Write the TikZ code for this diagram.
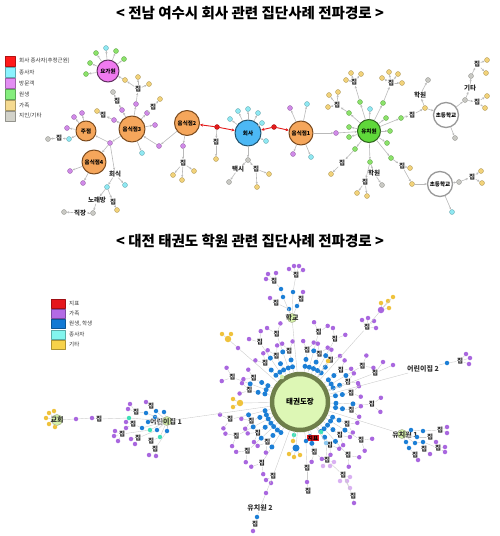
\documentclass[tikz,border=0pt]{standalone}
\usepackage{fontspec}
\setmainfont{Noto Sans CJK KR}
\usetikzlibrary{arrows.meta,calc}

% 위 그림 색
\definecolor{cyn}{HTML}{8FE8F2}
\definecolor{vio}{HTML}{D08AE8}
\definecolor{grn}{HTML}{8BE26A}
\definecolor{yel}{HTML}{F2D27A}
\definecolor{gry}{HTML}{C9C9C4}
\definecolor{rdd}{HTML}{E31B1B}
\definecolor{orn}{HTML}{F5A65B}
\definecolor{brn}{HTML}{7A4A1E}
\definecolor{mag}{HTML}{F07AF0}
\definecolor{sky}{HTML}{4CB8F5}
\definecolor{grd}{HTML}{5FD83A}
% 아래 그림 색
\definecolor{pvio}{HTML}{A967DF}
\definecolor{pblu}{HTML}{1C7FD6}
\definecolor{pcyn}{HTML}{3FE0B8}
\definecolor{pyel}{HTML}{EFC23C}
\definecolor{plvio}{HTML}{D9B0F2}
\definecolor{plblu}{HTML}{8CC8F0}
\definecolor{hubf}{HTML}{DDF7B5}
\definecolor{hubd}{HTML}{6E7F4A}
\definecolor{lgrn}{HTML}{D5F0A8}
% 범례 색
\definecolor{lr}{HTML}{FF1A1A}
\definecolor{lc}{HTML}{8AF3FF}
\definecolor{lv}{HTML}{E38DF3}
\definecolor{lg}{HTML}{85EE7E}
\definecolor{ly}{HTML}{F5DA90}
\definecolor{lw}{HTML}{D2D2CA}
\definecolor{mr}{HTML}{E5161D}
\definecolor{mv}{HTML}{B36AE5}
\definecolor{mb}{HTML}{1279D4}
\definecolor{mc}{HTML}{82F5EE}
\definecolor{my}{HTML}{F7D24A}

\begin{document}
\begin{tikzpicture}[x=1pt, y=-1pt, line join=round, line cap=round,
    big/.style={circle, inner sep=0pt, line width=1pt, font=\fontsize{5.5}{5.5}\selectfont\bfseries},
    shop/.style={big, draw=brn, fill=orn},
    firm/.style={big, draw=sky!45!black, fill=sky},
    yogast/.style={big, draw=mag!40!black, fill=mag},
    kinder/.style={big, draw=grd!45!black, fill=grd},
    school/.style={big, draw=gray!80, fill=white, line width=1.3pt},
    nd/.style={circle, inner sep=0pt, minimum size=5pt, draw=#1!70!black, line width=0.3pt, fill=#1},
    sm/.style={circle, inner sep=0pt, minimum size=4.5pt, fill=#1},
    lb/.style={inner sep=0.6pt, font=\fontsize{6.5}{6.5}\selectfont\bfseries, text=black!85},
    tag/.style={inner sep=0.5pt, font=\fontsize{7}{7}\selectfont\bfseries, text=black!80},
    kid/.style={circle, inner sep=0pt, minimum size=9pt, draw=hubd!70, line width=0.5pt, fill=lgrn},
    ar/.style={draw=gray!55, line width=0.6pt, -{Stealth[length=2.5pt,width=2.2pt]}},
    rar/.style={draw=rdd, line width=0.9pt, -{Stealth[length=3.2pt,width=3pt]}},
    ln/.style={draw=gray!40, line width=0.4pt},
    lgbox/.style={draw=#1!70!black, fill=#1, line width=0.3pt, inner sep=0pt},
    lgtxt/.style={anchor=west, inner sep=0pt, font=\fontsize{5.5}{5.5}\selectfont, text=black!80},
    ttl/.style={font=\fontsize{14.5}{14.5}\selectfont\bfseries}]
\useasboundingbox (0,0) rectangle (500,536);

% 제목
\node[ttl] (t1) at (250,13) {< 전남 여수시 회사 관련 집단사례 전파경로 >};
\node[ttl] (t2) at (250,241) {< 대전 태권도 학원 관련 집단사례 전파경로 >};

% 위 범례
\foreach \col/\txt [count=\i] in {lr/회사 종사자(추정근원), lc/종사자, lv/방문객, lg/원생, ly/가족, lw/{지인/기타}} {
  \node[lgbox=\col, minimum width=10pt, minimum height=10pt] (ua\i) at (10,50+11*\i) {};
  \node[lgtxt] (ub\i) at (19,50+11*\i) {\txt};
}

% 위 그림: 중심 노드
\node[yogast, minimum size=22pt] (yoga) at (108,71) {요가원};
\node[shop, minimum size=26pt] (s3) at (132,129) {음식점3};
\node[shop, minimum size=20pt] (jj) at (86,131) {주점};
\node[shop, minimum size=24pt] (s4) at (94,162) {음식점4};
\node[shop, minimum size=25pt] (s2) at (187,123) {음식점2};
\node[firm, minimum size=26pt] (hs) at (248,133) {회사};
\node[shop, minimum size=24pt] (s1) at (301,133) {음식점1};
\node[kinder, minimum size=23pt] (yc) at (369,131) {유치원};
\node[school, minimum size=25pt] (sc1) at (446,115) {초등학교};
\node[school, minimum size=25pt] (sc2) at (440,184) {초등학교};

% 추정근원 (회사 종사자)
\node[nd=rdd] (r1) at (217,127) {};
\node[nd=rdd] (r2) at (274,127) {};

% 위 그림: 작은 노드
\foreach \n/\x/\y/\col in {a1/96/53/grn, a2/106/48/cyn, a3/116/51/grn, a4/124/59/grn, a5/90/63/grn, a6/86/74/grn,
    b1/136/104/vio, b2/138/77/yel, b3/149/84/yel, b4/125/80/yel, b5/147/113/vio, b6/160/99/yel, b7/122/110/vio,
    b8/113/92/gry, b9/114/120/vio, b10/97/111/yel, b11/155/125/vio, b12/142/153/cyn, b13/110/143/vio, b14/159/146/vio,
    c1/74/117/vio, c2/82/113/vio, c3/67/128/vio, c4/69/139/cyn, c5/48/139/gry,
    d1/70/171/vio, d2/83/183/vio,
    e1/107/187/cyn, e2/125/185/cyn, e3/117/210/yel, e4/93/213/gry, e5/64/212/gry,
    f1/230/119/cyn, f2/238/111/cyn, f3/248/109/cyn, f4/258/113/cyn, f5/262/123/cyn, f6/266/141/cyn,
    f7/248/160/gry, f8/229/182/gry, f9/269/174/yel, f10/257/187/yel, g1/216/159/yel,
    h1/290/108/vio, h2/307/104/cyn, h3/293/154/vio, h4/311/157/cyn, h5/336/133/vio,
    i1/183/146/vio, i2/173/175/yel, i3/182/180/yel, i4/194/171/yel,
    k1/360/102/grn, k2/351/73/yel, k3/361/74/yel, k4/346/80/yel, k5/383/103/grn, k6/389/72/yel, k7/398/74/yel,
    k8/382/78/yel, k9/402/83/yel, k10/349/113/grn, k11/329/95/yel, k12/338/92/yel, k13/328/107/yel, k14/370/109/cyn,
    k15/386/118/grn, k16/349/127/grn, k17/390/131/grn, k18/349/137/grn, k19/387/143/grn, k20/401/118/grn,
    k21/425/108/yel, k22/428/80/gry, k23/355/149/grn, k24/331/174/yel, k25/370/162/grn, k26/382/185/gry,
    k27/357/193/yel, k28/367/196/yel, k29/391/158/grn, k30/410/168/yel, k31/412/184/yel,
    m1/455/138/gry, m2/465/100/gry, m3/471/76/gry, m4/487/60/yel, m5/486/73/yel, m6/487/96/yel, m7/485/108/yel,
    n1/459/182/gry, n2/481/171/yel, n3/482/183/yel, n4/452/212/cyn}
  \node[nd=\col] (\n) at (\x,\y) {};

% 위 그림: 장소 이름
\foreach \n/\x/\y/\txt in {L1/138/89/집, L2/153/107/집, L3/117/101/집, L4/103/115/집, L5/115/174/회식, L6/59/138/집,
    L7/97/200/노래방, L8/113/202/집, L9/80/213/직장, L10/238/169/택시, L11/256/169/집, L12/216/142/집, L13/183/163/집,
    L14/354/82/집, L15/391/83/집, L16/337/105/집, L17/412/115/집, L18/420/95/학원, L19/342/163/집, L20/374/173/학원,
    L21/365/182/집, L22/402/166/집, L23/470/88/기타, L24/477/64/집, L25/477/102/집, L26/472/177/집}
  \node[lb] (\n) at (\x,\y) {\txt};

% 위 그림: 전파 화살표
\foreach \p/\q in {yoga/a1, yoga/a2, yoga/a3, yoga/a4, yoga/a5, yoga/a6,
    s3/b1, b1/L1, L1/b2, L1/b3, L1/b4, b4/yoga, s3/b5, b5/L2, L2/b6, s3/b7, b7/L3, L3/b8, s3/b9, b9/L4, L4/b10,
    s3/b11, s3/b12, s3/b13, b13/jj, b13/s4, b13/L5, s2/b14, b14/s3,
    jj/c1, jj/c2, jj/c3, jj/c4, c4/L6, L6/c5, s4/d1, s4/d2,
    L5/e1, L5/e2, e1/L7, e1/L8, L8/e3, L7/e4, e4/L9, L9/e5,
    hs/f1, hs/f2, hs/f3, hs/f4, hs/f5, hs/f6, hs/f7, f7/L10, L10/f8, f7/L11, L11/f9, L11/f10, r1/L12, L12/g1,
    s1/h1, s1/h2, s1/h3, s1/h4, s1/h5, h5/yc, s2/i1, i1/L13, L13/i2, L13/i3, L13/i4,
    yc/k1, k1/L14, L14/k2, L14/k3, L14/k4, yc/k5, k5/L15, L15/k6, L15/k7, L15/k8, L15/k9,
    yc/k10, k10/L16, L16/k11, L16/k12, L16/k13, yc/k14, yc/k15, yc/k16, yc/k17, yc/k18, yc/k19,
    yc/k20, k20/L17, L17/k21, k21/L18, L18/k22, k21/sc1, yc/k23, k23/L19, L19/k24,
    yc/k25, k25/L20, L20/k26, k25/L21, L21/k27, L21/k28, yc/k29, k29/L22, L22/k30, L22/k31, k31/sc2,
    sc1/m1, sc1/m2, m2/L23, L23/m3, m3/L24, L24/m4, L24/m5, m2/L25, L25/m6, L25/m7,
    sc2/n1, n1/L26, L26/n2, L26/n3, sc2/n4}
  \draw[ar] (\p) -- (\q);

% 추정근원에서 나가는 빨간 화살표
\draw[rar] (r1) -- (s2);
\draw[rar] (r1) -- (hs);
\draw[rar] (r2) -- (hs);
\draw[rar] (r2) -- (s1);

% 아래 범례
\foreach \col/\txt [count=\i] in {mr/지표, mv/가족, mb/{원생, 학생}, mc/종사자, my/기타} {
  \node[lgbox=\col, minimum width=14pt, minimum height=9pt] (va\i) at (58,293+10.3*\i) {};
  \node[lgtxt] (vb\i) at (69,293+10.3*\i) {\txt};
}

% 아래 그림: 태권도장
\node[circle, draw=hubd, line width=4.5pt, fill=hubf, minimum size=56pt, inner sep=0pt,
  font=\fontsize{7.5}{7.5}\selectfont\bfseries] (tk) at (300,402) {태권도장};

% 태권도장 주변 방사형 연결
\foreach \a/\r [count=\i] in {350/52, 2/72, 9/52, 25/52, 32/72, 40/52, 48/72, 55/52, 74/52, 122/72, 129/52,
    137/72, 144/52, 152/72, 159/52, 166/72, 193/52, 200/72, 207/52, 228/52, 236/72, 243/52, 251/72, 258/52,
    278/52, 285/72, 292/52, 299/72, 306/52, 322/52, 330/72, 337/52} {
  \node[sm=pblu, minimum size=5pt] (p\i) at ($(tk)+(\a:36)$) {};
  \node[sm=pblu, minimum size=5pt] (q\i) at ($(tk)+(\a:0.5*\r+17)$) {};
  \node[lb] (z\i) at ($(tk)+(\a:\r)$) {집};
  \node[sm=pvio] (u\i) at ($(tk)+(\a-5:\r+9)$) {};
  \node[sm=pvio] (w\i) at ($(tk)+(\a+5:\r+9)$) {};
  \draw[ln] (tk) -- (p\i) (p\i) -- (q\i) (q\i) -- (z\i) (z\i) -- (u\i) (z\i) -- (w\i);
}

% 아래 그림: 기관
\node[kid] (hk) at (292,318) {};
\node[tag] (hkt) at (hk) {학교};
\node[kid] (ch1) at (167,421) {};
\node[tag] (ch1t) at (166,422) {어린이집 1};
\node[tag] (ch2) at (423,369) {어린이집 2};
\node[kid] (kg1) at (402,434) {};
\node[tag] (kg1t) at (405,435) {유치원 1};
\node[tag] (kg2) at (260,508) {유치원 2};
\node[kid, minimum size=11pt] (gh) at (57,420) {};
\node[tag] (ght) at (gh) {교회};
\node[fill=mr, inner sep=0.6pt, font=\fontsize{5.5}{5.5}\selectfont\bfseries] (jp) at (313,438) {지표};

% 아래 그림: 작은 노드
\foreach \n/\x/\y/\col in {hb1/289/309/pblu, hb2/297/306/pblu, hb3/283/297/pblu, hb4/281/289/pblu, hb5/293/292/pblu,
    hv1/270/298/pvio, hv2/303/292/pvio, hv3/268/274/pvio, hv4/276/273/pvio, hv5/266/279/pvio, hv6/289/269/pvio,
    hv7/294/266/pvio, hv8/299/266/pvio, hv9/303/270/pvio,
    uv1/362/320/pvio, uv2/368/318/pvio, uv3/374/321/pvio, uv4/376/328/pvio,
    uy1/381/303/pyel, uy2/388/301/pyel, uy3/393/297/pyel, uy4/389/308/pyel,
    ul1/238/348/pvio, ul3/222/334/pyel, ul4/231/334/pyel, lf2/233/399/pyel, lf3/233/407/pyel,
    cb1/146/413/pblu, cb2/148/422/pblu, cb3/142/428/pblu, cb4/156/411/pblu, cb5/164/412/pblu, cb6/157/430/pblu,
    cb7/167/431/pblu, cb8/155/417/pblu, cc1/129/418/pcyn, cc2/150/430/pcyn, cc3/160/437/pcyn,
    cv1/146/402/pvio, cv2/128/409/pvio, cv3/130/404/pvio, cv4/126/422/pvio, cv5/126/428/pvio, cv6/115/431/pvio,
    cv7/114/436/pvio, cv8/118/441/pvio, cv9/131/439/pvio, cv10/135/444/pvio, cv12/149/455/pvio, cv13/156/456/pvio,
    dv1/92/418/pvio, dv2/76/419/pvio,
    gy1/49/413/pyel, gy2/54/411/pyel, gy3/46/418/pyel, gy4/49/424/pyel, gy5/55/427/pyel,
    eb1/447/363/pblu, ev1/466/354/pvio, ev2/470/358/pvio, ev3/469/364/pvio, ev4/383/362/pvio, ev5/393/365/pvio,
    kb1/411/430/pblu, kb2/423/431/pblu, kb3/417/437/pblu, kb4/406/442/pblu, kb5/415/443/pblu, kb6/423/442/pblu,
    kb7/409/448/pblu, kv1/447/427/pvio, kv2/447/433/pvio, kv3/436/442/pvio, kv4/445/447/pvio, kv5/445/452/pvio,
    kv6/430/454/pvio, kv7/418/460/pvio,
    lv1/266/480/pvio, lv2/271/483/pvio, lv3/266/493/pvio, lb1/257/517/pblu, lv4/253/531/pvio,
    db1/306/441/pblu, ov1/307/482/pvio,
    qb1/326/443/plblu, qv1/323/466/plvio, qv2/330/466/plvio, qv3/334/462/plvio, qv4/340/481/plvio,
    qv5/347/481/plvio, qv6/350/477/plvio, qv7/350/488/plvio, qv8/354/503/pvio,
    xc1/294/435/pcyn, xc2/321/432/pcyn, xy1/293/441/pyel, xy2/289/454/pyel, xy3/294/457/pyel,
    xy4/300/455/pyel, xy5/328/361/pyel, xg1/282/377/lgrn}
  \node[sm=\col] (\n) at (\x,\y) {};
\node[sm=pvio, minimum size=6.5pt] (uv5) at (381,310) {};
\node[sm=pyel, minimum size=6.5pt] (ul2) at (228,339) {};
\node[sm=pyel, minimum size=6.5pt] (lf1) at (240,403) {};
\node[sm=pblu, minimum size=7pt] (xb1) at (296,448) {};

% 아래 그림: 집
\foreach \n/\x/\y in {hz1/276/303, hz2/301/299, hz3/274/281, hz4/296/275, urz/367/327, cz1/151/406, cz2/136/412,
    cz3/133/424, cz4/122/434, cz5/138/438, cz6/151/441, cz7/155/449, dz1/99/419, ez1/460/361, ez2/375/373,
    kz1/440/430, kz2/430/437, kz3/438/448, kz4/424/449, kz5/415/455, lz1/273/476, lz2/255/524,
    oz1/307/468, oz2/308/491, qz1/327/460, qz2/343/475, qz3/353/496}
  \node[lb] (\n) at (\x,\y) {집};

% 아래 그림: 연결선
\foreach \p/\q in {tk/hk, hk/hb1, hb1/hz1, hz1/hv1, hk/hb2, hb2/hz2, hz2/hv2, hk/hb3, hb3/hb4, hb4/hz3,
    hz3/hv3, hz3/hv4, hz3/hv5, hk/hb5, hb5/hz4, hz4/hv6, hz4/hv7, hz4/hv8, hz4/hv9,
    tk/urz, urz/uv1, urz/uv2, urz/uv3, urz/uv4, urz/uv5, uv5/uy1, uv5/uy2, uv5/uy3, uv5/uy4,
    tk/ul1, ul1/ul2, ul2/ul3, ul2/ul4, tk/lf1, lf1/lf2, lf1/lf3,
    tk/ch1, ch1/cb1, ch1/cb2, ch1/cb3, ch1/cb4, ch1/cb5, ch1/cb6, ch1/cb7, ch1/cb8, ch1/cc1, ch1/cc2, ch1/cc3,
    cb4/cz1, cz1/cv1, cb1/cz2, cz2/cv2, cz2/cv3, cb3/cz3, cz3/cv4, cz3/cv5, cc2/cz4, cz4/cv6, cz4/cv7, cz4/cv8,
    cb6/cz5, cz5/cv9, cz5/cv10, cc3/cz6, cb7/cz7, cz7/cv12, cz7/cv13,
    cc1/dz1, dz1/dv1, dv1/dv2, dv2/gh, gh/gy1, gh/gy2, gh/gy3, gh/gy4, gh/gy5,
    tk/ch2, ch2/eb1, eb1/ez1, ez1/ev1, ez1/ev2, ez1/ev3, tk/ez2, ez2/ev4, ez2/ev5,
    tk/kg1, kg1/kb1, kb1/kb2, kb2/kz1, kz1/kv1, kz1/kv2, kg1/kb3, kb3/kz2, kz2/kv3, kg1/kb5, kb5/kb6,
    kb6/kz3, kz3/kv4, kz3/kv5, kb6/kz4, kz4/kv6, kg1/kb4, kb4/kb7, kb7/kz5, kz5/kv7,
    tk/lz1, lz1/lv1, lz1/lv2, lz1/lv3, lv3/kg2, kg2/lb1, lb1/lz2, lz2/lv4,
    tk/db1, db1/oz1, oz1/ov1, ov1/oz2,
    tk/qb1, qb1/qz1, qz1/qv1, qz1/qv2, qz1/qv3, qz1/qz2, qz2/qv4, qz2/qv5, qz2/qv6, qz2/qv7, qz2/qz3, qz3/qv8,
    tk/xc1, tk/xc2, tk/xy1, tk/xb1, xb1/xy2, xb1/xy3, xb1/xy4, tk/xy5, tk/xg1, tk/jp}
  \draw[ln] (\p) -- (\q);
\end{tikzpicture}
\end{document}
